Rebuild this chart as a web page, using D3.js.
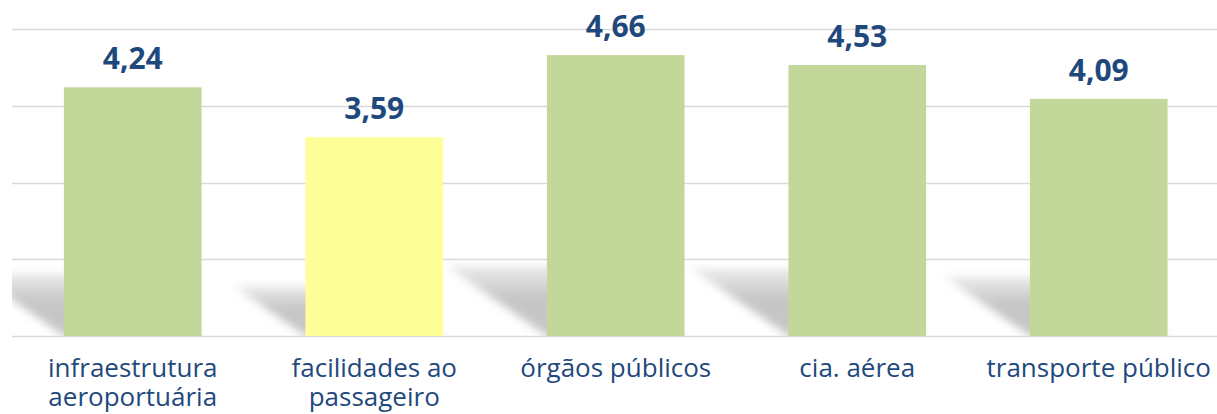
<!DOCTYPE html>
<html>
<head>
<meta charset="utf-8">
<script src="https://cdn.jsdelivr.net/npm/d3@7"></script>
<style>
  body { margin: 0; background: #fff; }
  svg { display: block; }
  .grid line { stroke: #d9d9d9; stroke-width: 1.5px; }
  .value-label { font-family: "Open Sans", sans-serif; font-weight: bold; font-size: 30px; fill: #1f497d; }
  .cat-label { font-family: "Open Sans", sans-serif; font-size: 26px; fill: #1f497d; }
</style>
</head>
<body>
<div class="chart"></div>
<script>
var categories = ["infraestrutura aeroportuária", "facilidades ao passageiro", "órgãos públicos", "cia. aérea", "transporte público"];
var values = [4.24, 3.59, 4.66, 4.53, 4.09];
var barColors = ["#c4d79b", "#ffff99", "#c4d79b", "#c4d79b", "#c4d79b"];
var gridTicks = [1, 2, 3, 4, 5];

var width = 1217, height = 414;
var top_y = 29, base_y = 336;

var svg = d3.select(".chart").append("svg")
    .attr("width", width)
    .attr("height", height);

var x = d3.scaleBand()
    .domain(categories)
    .range([12, 1219.5])
    .paddingInner(0.43)
    .paddingOuter(0.215);

var y = d3.scaleLinear()
    .domain([1, 5])
    .range([base_y, top_y]);

// blur + fade for the bar shadows
var defs = svg.append("defs");
defs.append("filter")
    .attr("id", "blur")
    .attr("x", "-50%").attr("y", "-50%")
    .attr("width", "200%").attr("height", "200%")
  .append("feGaussianBlur")
    .attr("stdDeviation", 4.5);

var grad = defs.append("linearGradient")
    .attr("id", "shade")
    .attr("x1", 0).attr("y1", 0)
    .attr("x2", 0).attr("y2", 1);
grad.append("stop").attr("offset", "0%").attr("stop-color", "#c6c6c6").attr("stop-opacity", 0.35);
grad.append("stop").attr("offset", "45%").attr("stop-color", "#c6c6c6").attr("stop-opacity", 1);
grad.append("stop").attr("offset", "100%").attr("stop-color", "#c6c6c6").attr("stop-opacity", 1);

defs.append("clipPath").attr("id", "plotclip")
  .append("rect")
    .attr("x", 12).attr("y", 0)
    .attr("width", width - 12).attr("height", base_y);

// gridlines
svg.append("g")
    .attr("class", "grid")
  .selectAll("line")
    .data(gridTicks)
  .enter().append("line")
    .attr("x1", 12)
    .attr("x2", width)
    .attr("y1", function(d){ return Math.round(y(d)) + 0.5; })
    .attr("y2", function(d){ return Math.round(y(d)) + 0.5; });

// shadows: a slanted copy of each bar falling to the left
svg.append("g")
    .attr("clip-path", "url(#plotclip)")
  .selectAll(".shadow")
    .data(values)
  .enter().append("path")
    .attr("class", "shadow")
    .attr("fill", "url(#shade)")
    .attr("filter", "url(#blur)")
    .attr("d", function(d, i){
      var l = x(categories[i]), r = l + x.bandwidth(),
        h = base_y - y(d),
        dx = h * 0.36, dy = h * 0.25;
      return "M" + l + "," + base_y +
        "L" + (l - dx) + "," + (base_y - dy) +
        "L" + (r - dx) + "," + (base_y - dy) +
        "L" + r + "," + base_y + "Z";
    });

// bars
svg.selectAll(".bar")
    .data(values)
  .enter().append("rect")
    .attr("class", "bar")
    .attr("x", function(d, i){ return x(categories[i]); })
    .attr("width", x.bandwidth())
    .attr("y", function(d){ return y(d); })
    .attr("height", function(d){ return base_y - y(d); })
    .style("fill", function(d, i){ return barColors[i]; });

// value labels
svg.selectAll(".value-label")
    .data(values)
  .enter().append("text")
    .attr("class", "value-label")
    .attr("text-anchor", "middle")
    .attr("x", function(d, i){ return x(categories[i]) + x.bandwidth() / 2; })
    .attr("y", function(d){ return y(d) - 18; })
    .text(function(d){ return d3.format(".2f")(d).replace(".", ","); });

// category labels, wrapped to the band step
var cat = svg.selectAll(".cat-label")
    .data(categories)
  .enter().append("text")
    .attr("class", "cat-label")
    .attr("text-anchor", "middle")
    .attr("x", function(d){ return x(d) + x.bandwidth() / 2; })
    .attr("y", 377);

cat.each(function(d){
  var t = d3.select(this),
    cx = x(d) + x.bandwidth() / 2,
    words = d.split(" "),
    line = [],
    tspan = t.append("tspan").attr("x", cx).attr("dy", 0);
  words.forEach(function(w){
    line.push(w);
    tspan.text(line.join(" "));
    if (tspan.node().getComputedTextLength() > x.step() - 4 && line.length > 1){
      line.pop();
      tspan.text(line.join(" "));
      line = [w];
      tspan = t.append("tspan").attr("x", cx).attr("dy", 29).text(w);
    }
  });
});
</script>
</body>
</html>
